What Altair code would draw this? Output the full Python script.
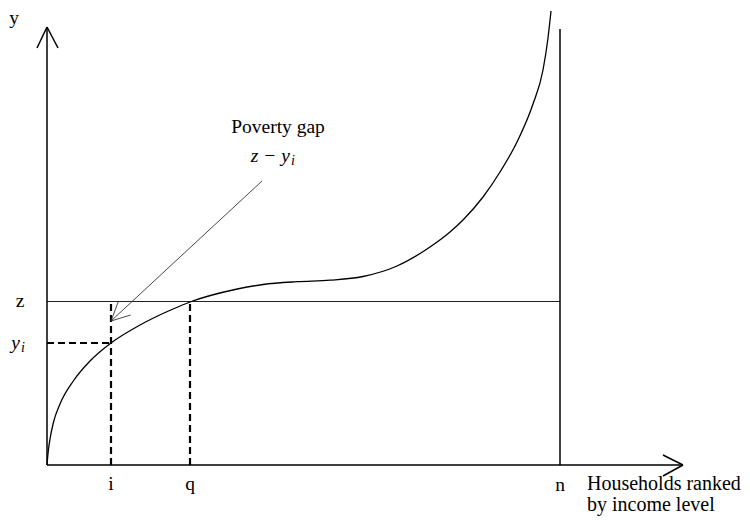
import altair as alt
import pandas as pd

# Income curve: households ranked (x) vs income (y), schematic units
curve_x = [0, 0.5, 1.3, 3, 6.3, 13, 26.3, 43, 64, 93, 126, 143, 188, 216, 250, 283, 316, 350, 383, 403, 416, 436, 453, 470, 486, 496, 501, 504]
curve_y = [0, 6, 14, 26, 42, 61, 84, 104, 122, 140, 156, 163, 175.5, 180.5, 183.3, 184.8, 188.5, 199, 218, 233, 245, 268, 293, 323, 361, 395, 427, 454]

z_level = 163.5   # poverty line
yi_level = 122    # income of household i
i_pos = 64
q_pos = 143
n_pos = 513
x_axis_end = 636
y_axis_end = 438
n_line_top = 436

X_DOM = [-39, 695]
Y_DOM = [-57, 456]
xs = alt.Scale(domain=X_DOM, nice=False, zero=False)
ys = alt.Scale(domain=Y_DOM, nice=False, zero=False)
FONT = "Liberation Serif"


def segs(rows):
    return pd.DataFrame(rows, columns=["x", "y", "x2", "y2"])


def rule_layer(df, **mark):
    return alt.Chart(df).mark_rule(**mark).encode(
        x=alt.X("x:Q", scale=xs, axis=None),
        y=alt.Y("y:Q", scale=ys, axis=None),
        x2="x2:Q",
        y2="y2:Q",
    )


axes_df = segs([
    [0, 0, 0, y_axis_end],
    [-10, y_axis_end - 21, 0, y_axis_end],
    [11, y_axis_end - 21, 0, y_axis_end],
    [0, 0, x_axis_end, 0],
    [x_axis_end - 20, 10, x_axis_end, 0],
    [x_axis_end - 20, -11, x_axis_end, 0],
    [n_pos, 0, n_pos, n_line_top],
])
zline_df = segs([[0, z_level, n_pos, z_level]])
dash_df = segs([
    [i_pos, 0, i_pos, z_level],
    [0, yi_level, i_pos, yi_level],
    [q_pos, 0, q_pos, z_level],
])
arrow_df = segs([
    [215, 284, i_pos, 144],
    [71.3, 163.3, i_pos, 144],
    [83.7, 150, i_pos, 144],
])

curve_df = pd.DataFrame({"x": curve_x, "y": curve_y})
curve = alt.Chart(curve_df).mark_line(
    color="black", strokeWidth=1.3, interpolate="monotone"
).encode(
    x=alt.X("x:Q", scale=xs, axis=None),
    y=alt.Y("y:Q", scale=ys, axis=None),
)

labels = pd.DataFrame([
    {"x": -33, "y": 447, "t": "y"},
    {"x": 231, "y": 338, "t": "Poverty gap"},
    {"x": -27, "y": 164, "t": "z"},
    {"x": i_pos, "y": -19, "t": "i"},
    {"x": q_pos, "y": -19, "t": "q"},
    {"x": n_pos, "y": -20, "t": "n"},
])
text_layer = alt.Chart(labels).mark_text(
    font=FONT, fontSize=19.5, color="black", baseline="middle", align="center"
).encode(
    x=alt.X("x:Q", scale=xs, axis=None),
    y=alt.Y("y:Q", scale=ys, axis=None),
    text="t:N",
)

ital_main = pd.DataFrame([
    {"x": 243, "y": 309, "t": "z − y"},
    {"x": -27, "y": 122, "t": "y"},
])
ital_main_layer = alt.Chart(ital_main).mark_text(
    font=FONT, fontSize=19.5, fontStyle="italic", color="black", baseline="middle", align="right"
).encode(
    x=alt.X("x:Q", scale=xs, axis=None),
    y=alt.Y("y:Q", scale=ys, axis=None),
    text="t:N",
)
ital_sub = pd.DataFrame([
    {"x": 243, "y": 304, "t": "i"},
    {"x": -27, "y": 117, "t": "i"},
])
ital_sub_layer = alt.Chart(ital_sub).mark_text(
    font=FONT, fontSize=14, fontStyle="italic", color="black", baseline="middle", align="left", dx=1
).encode(
    x=alt.X("x:Q", scale=xs, axis=None),
    y=alt.Y("y:Q", scale=ys, axis=None),
    text="t:N",
)

xlab = pd.DataFrame([
    {"x": 540, "y": -25, "t": "Households ranked"},
    {"x": 540, "y": -46, "t": "by income level"},
])
xlab_layer = alt.Chart(xlab).mark_text(
    font=FONT, fontSize=20, color="black", baseline="alphabetic", align="left"
).encode(
    x=alt.X("x:Q", scale=xs, axis=None),
    y=alt.Y("y:Q", scale=ys, axis=None),
    text="t:N",
)

chart = alt.layer(
    rule_layer(zline_df, color="#222", strokeWidth=1.1),
    rule_layer(dash_df, color="black", strokeWidth=2.2, strokeDash=[7, 4]),
    rule_layer(arrow_df, color="#333", strokeWidth=0.9),
    curve,
    rule_layer(axes_df, color="black", strokeWidth=1.5),
    text_layer,
    ital_main_layer,
    ital_sub_layer,
    xlab_layer,
).properties(
    width=734, height=513, padding=0, background="white"
).configure_view(stroke=None)

chart.save("out.html", embed_options={"renderer": "svg", "actions": False})
